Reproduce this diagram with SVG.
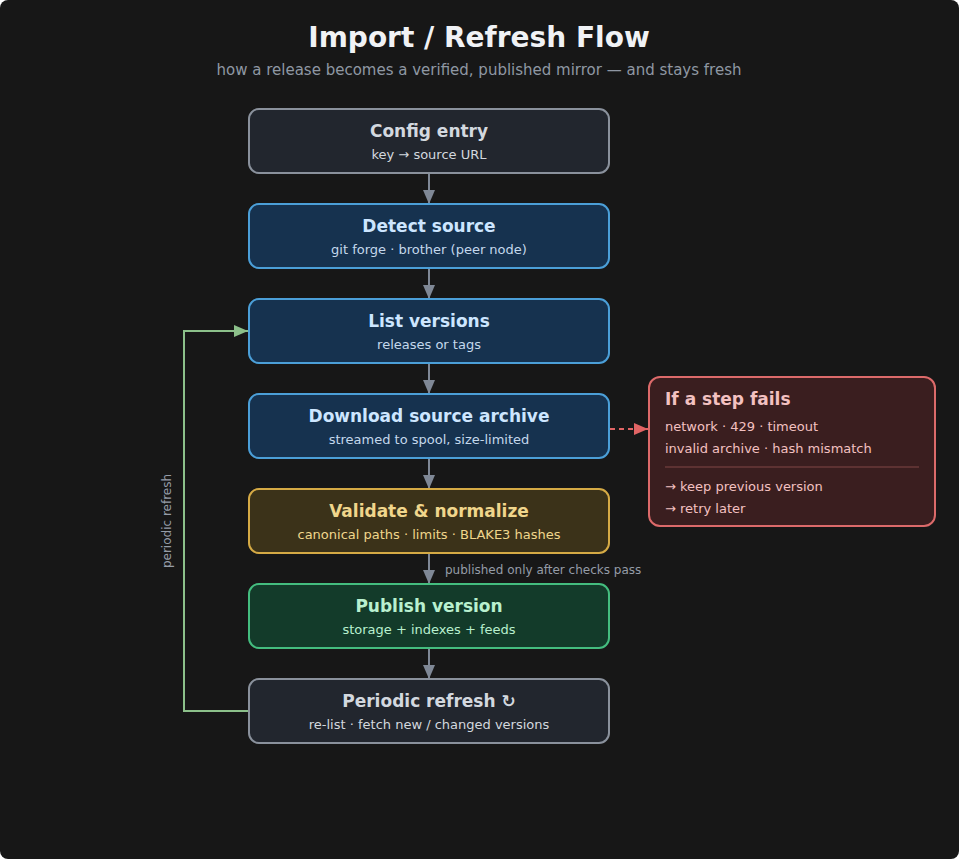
<svg xmlns="http://www.w3.org/2000/svg" width="959" height="859" viewBox="0 0 959 859">
<defs>
<marker id="ag" viewBox="0 0 14 12" refX="14" refY="6" markerWidth="14" markerHeight="12" markerUnits="userSpaceOnUse" orient="auto"><path d="M0,0 L14,6 L0,12 Z" fill="#7f8896"/></marker>
<marker id="agr" viewBox="0 0 14 12" refX="14" refY="6" markerWidth="14" markerHeight="12" markerUnits="userSpaceOnUse" orient="auto"><path d="M0,0 L14,6 L0,12 Z" fill="#8cc08a"/></marker>
<marker id="ar" viewBox="0 0 14 12" refX="14" refY="6" markerWidth="14" markerHeight="12" markerUnits="userSpaceOnUse" orient="auto"><path d="M0,0 L14,6 L0,12 Z" fill="#e06464"/></marker>
</defs>
<style>
text{font-family:"DejaVu Sans","Liberation Sans",sans-serif}
.t{font-size:17px;font-weight:bold;text-anchor:middle}
.s{font-size:13px;text-anchor:middle}
.box{stroke-width:2}
.gray rect{fill:#22262e;stroke:#8a919c}
.gray text{fill:#d3d8df}
.blue rect{fill:#16324f;stroke:#4b9fd8}
.blue .t{fill:#cde6ff}
.blue .s{fill:#c4d8ec}
.yel rect{fill:#3b3219;stroke:#d5aa45}
.yel text{fill:#f0d68c}
.grn rect{fill:#133b2a;stroke:#44bd7f}
.grn text{fill:#b9f0cf}
.conn{stroke:#7f8896;stroke-width:2;fill:none}
.fail text{fill:#f3c1c1;font-size:13px}
</style>
<rect x="0" y="0" width="959" height="859" rx="8" fill="#171717"/>
<text x="479" y="47" text-anchor="middle" font-size="28" font-weight="bold" fill="#f0f2f5">Import / Refresh Flow</text>
<text x="479" y="75" text-anchor="middle" font-size="15" fill="#8f97a3">how a release becomes a verified, published mirror — and stays fresh</text>

<g id="connectors">
<line class="conn" x1="429" y1="174" x2="429" y2="204" marker-end="url(#ag)"/>
<line class="conn" x1="429" y1="269" x2="429" y2="299" marker-end="url(#ag)"/>
<line class="conn" x1="429" y1="364" x2="429" y2="394" marker-end="url(#ag)"/>
<line class="conn" x1="429" y1="459" x2="429" y2="489" marker-end="url(#ag)"/>
<line class="conn" x1="429" y1="554" x2="429" y2="584" marker-end="url(#ag)"/>
<line class="conn" x1="429" y1="649" x2="429" y2="679" marker-end="url(#ag)"/>
<text x="445" y="574" font-size="12" fill="#959ca7">published only after checks pass</text>
<line x1="610" y1="429" x2="648" y2="429" stroke="#e06464" stroke-width="2" stroke-dasharray="5,4" marker-end="url(#ar)"/>
<polyline points="249,711 184,711 184,331 248,331" fill="none" stroke="#8cc08a" stroke-width="2" marker-end="url(#agr)"/>
<text transform="translate(171,521) rotate(-90)" text-anchor="middle" font-size="12" fill="#959ca7">periodic refresh</text>
</g>

<g id="config" class="gray"><rect class="box" x="249" y="109" width="360" height="64" rx="10"/><text class="t" x="429" y="137">Config entry</text><text class="s" x="429" y="159">key → source URL</text></g>
<g id="detect" class="blue"><rect class="box" x="249" y="204" width="360" height="64" rx="10"/><text class="t" x="429" y="232">Detect source</text><text class="s" x="429" y="254">git forge · brother (peer node)</text></g>
<g id="list" class="blue"><rect class="box" x="249" y="299" width="360" height="64" rx="10"/><text class="t" x="429" y="327">List versions</text><text class="s" x="429" y="349">releases or tags</text></g>
<g id="download" class="blue"><rect class="box" x="249" y="394" width="360" height="64" rx="10"/><text class="t" x="429" y="422">Download source archive</text><text class="s" x="429" y="444">streamed to spool, size-limited</text></g>
<g id="validate" class="yel"><rect class="box" x="249" y="489" width="360" height="64" rx="10"/><text class="t" x="429" y="517">Validate &amp; normalize</text><text class="s" x="429" y="539">canonical paths · limits · BLAKE3 hashes</text></g>
<g id="publish" class="grn"><rect class="box" x="249" y="584" width="360" height="64" rx="10"/><text class="t" x="429" y="612">Publish version</text><text class="s" x="429" y="634">storage + indexes + feeds</text></g>
<g id="refresh" class="gray"><rect class="box" x="249" y="679" width="360" height="64" rx="10"/><text class="t" x="429" y="707">Periodic refresh ↻</text><text class="s" x="429" y="729">re-list · fetch new / changed versions</text></g>

<g id="fail" class="fail">
<rect x="649" y="377" width="286" height="149" rx="11" fill="#3a1e1f" stroke="#dc6a6a" stroke-width="2"/>
<text x="665" y="405" font-size="17" font-weight="bold" fill="#f6c4c4" style="font-size:17px">If a step fails</text>
<text x="665" y="431">network · 429 · timeout</text>
<text x="665" y="453">invalid archive · hash mismatch</text>
<line x1="665" y1="467" x2="919" y2="467" stroke="#6a3a3a" stroke-width="1.5"/>
<text x="665" y="491">→ keep previous version</text>
<text x="665" y="513">→ retry later</text>
</g>
</svg>
